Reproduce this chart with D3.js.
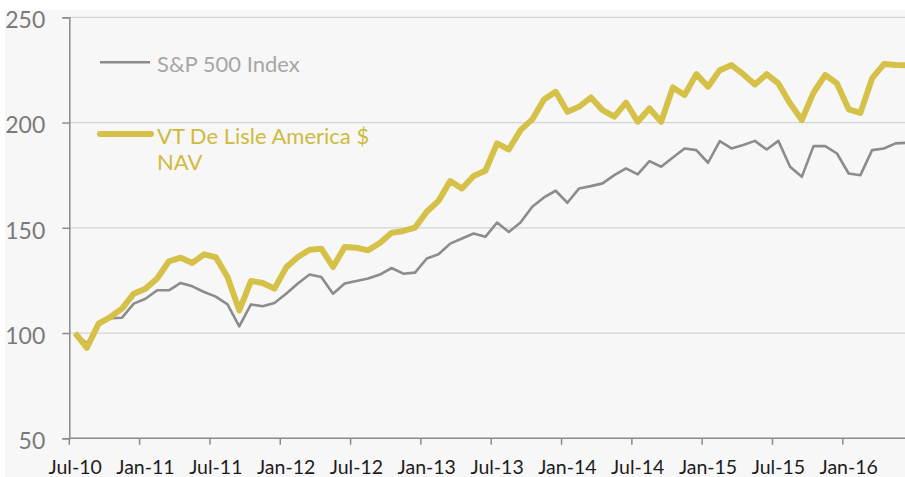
<!DOCTYPE html>
<html>
<head>
<meta charset="utf-8">
<script src="https://cdn.jsdelivr.net/npm/d3@7"></script>
<style>
  html, body { margin: 0; padding: 0; background: #ffffff; }
  svg { display: block; }
</style>
</head>
<body>
<div id="chart"></div>
<script>
// ---- data ----
const startMonth = new Date(2010, 6, 1);  // Jul-10
const months = d3.timeMonth.range(startMonth, new Date(2016, 6, 1)).map(d3.timeFormat("%b-%y"));

const seriesNames = ["S&P 500 Index", "VT De Lisle America $ NAV"];

const sp500 = [
  100, 95, 104, 107, 107.3, 114, 116.3, 120.3, 120.3, 123.8, 122.2, 119.5,
  117.3, 113.6, 103.2, 113.6, 112.7, 114.3, 118.7, 123.5, 127.8, 126.6, 118.7, 123.5,
  124.7, 125.9, 127.8, 130.9, 128.2, 128.7, 135.4, 137.4, 142.5, 144.9, 147.3, 145.7,
  152.5, 148.0, 152.5, 160.0, 164.4, 167.6, 161.9, 168.7, 169.8, 171.1, 175.0, 178.2,
  175.4, 181.7, 179.0, 183.4, 187.7, 186.9, 180.9, 191.2, 187.7, 189.3, 191.3, 187.2,
  191.3, 179.0, 174.2, 188.8, 188.8, 185.3, 175.8, 175.0, 186.9, 187.7, 190.1, 190.4
];

const navSeries = [
  100, 93, 104.5, 107.6, 111.6, 118.7, 121.1, 125.9, 134.1, 135.8, 133.3, 137.4,
  136, 126.6, 110.8, 124.7, 123.8, 121.1, 131.1, 136.1, 139.6, 140.1, 131.4, 140.9,
  140.5, 139.3, 142.8, 147.6, 148.5, 150.1, 157.6, 162.8, 172.2, 168.7, 174.6, 177.1,
  190.1, 187.2, 196.4, 201.5, 211.0, 214.6, 205.1, 207.5, 211.9, 205.9, 202.8, 209.5,
  200.4, 206.7, 200.4, 216.7, 213.1, 223.0, 217.0, 224.9, 227.3, 223.0, 218.1, 223.0,
  218.6, 209.1, 201.2, 214.2, 222.6, 218.6, 206.3, 204.6, 221.0, 227.8, 227.3, 227.2
];

const yTicks = [50, 100, 150, 200, 250];
const xTickLabels = ["Jul-10","Jan-11","Jul-11","Jan-12","Jul-12","Jan-13","Jul-13","Jan-14","Jul-14","Jan-15","Jul-15","Jan-16"];

// ---- layout ----
const W = 905, H = 477;
const axisX = 69.3, monthW = 11.72;
const fontFam = "Lato, 'Open Sans', sans-serif";

const svg = d3.select("#chart").append("svg")
  .attr("width", W).attr("height", H);

// chart background
svg.append("rect").attr("x", 5).attr("y", 10).attr("width", W - 5).attr("height", H - 10)
  .attr("fill", "#f7f7f7");

const x = d3.scaleBand().domain(months)
  .range([axisX, axisX + months.length * monthW]).paddingInner(0).paddingOuter(0);
const y = d3.scaleLinear().domain([50, 250]).range([438.3, 17.3]);
const cx = m => x(m) + x.bandwidth() / 2;

// gridlines
svg.append("g").selectAll("line").data(yTicks.filter(t => t > 50)).join("line")
  .attr("x1", axisX).attr("x2", W)
  .attr("y1", d => y(d)).attr("y2", d => y(d))
  .attr("stroke", "#d4d4d4").attr("stroke-width", 1.3);

// y axis
const yAxis = d3.axisLeft(y).tickValues(yTicks).tickSize(7).tickPadding(17).tickFormat(d3.format("d"));
const gy = svg.append("g").attr("transform", `translate(${axisX},0)`).call(yAxis);
gy.select(".domain").attr("stroke", "#8a8a8a").attr("stroke-width", 1.5);
gy.selectAll(".tick line").attr("stroke", "#8a8a8a").attr("stroke-width", 1.5);
gy.selectAll(".tick text").attr("fill", "#7a7a7a").style("font-family", fontFam)
  .style("font-size", "23px").attr("dy", "0.45em");

// x axis: ticks between categories every 6 months, labels centered on category
const gx = svg.append("g");
gx.append("line").attr("x1", axisX).attr("x2", W).attr("y1", y(50)).attr("y2", y(50))
  .attr("stroke", "#8a8a8a").attr("stroke-width", 1.5);
const tickMonths = months.filter(m => xTickLabels.includes(m));
gx.selectAll("line.tk").data(tickMonths).join("line").attr("class", "tk")
  .attr("x1", d => x(d)).attr("x2", d => x(d))
  .attr("y1", y(50)).attr("y2", y(50) + 6.5)
  .attr("stroke", "#8a8a8a").attr("stroke-width", 1.5);
gx.selectAll("text").data(tickMonths).join("text")
  .attr("x", d => cx(d)).attr("y", 466.5)
  .attr("text-anchor", "middle").attr("dominant-baseline", "central")
  .attr("fill", "#1c1c1c").style("font-family", fontFam).style("font-size", "19.5px")
  .text(d => d);

// lines
const line = d3.line().x((d, i) => cx(months[i])).y(d => y(d)).curve(d3.curveLinear);

svg.append("path").datum(sp500).attr("d", line)
  .attr("fill", "none").attr("stroke", "#8c8c8c").attr("stroke-width", 2.6)
  .attr("stroke-linejoin", "round");
svg.append("path").datum(navSeries).attr("d", line)
  .attr("fill", "none").attr("stroke", "#d6c148").attr("stroke-width", 6)
  .attr("stroke-linejoin", "round");

// legend
const lg = svg.append("g").style("font-family", fontFam).style("font-size", "22px");
lg.append("line").attr("x1", 100).attr("x2", 150).attr("y1", 62.3).attr("y2", 62.3)
  .attr("stroke", "#8c8c8c").attr("stroke-width", 2.6);
lg.append("text").attr("x", 157).attr("y", 72).attr("fill", "#a6a6a6").text(seriesNames[0]);
lg.append("line").attr("x1", 100).attr("x2", 151).attr("y1", 134).attr("y2", 134)
  .attr("stroke", "#d6c148").attr("stroke-width", 6).attr("stroke-linecap", "round");
const t2 = lg.append("text").attr("x", 157).attr("y", 144).attr("fill", "#cfba3c");
t2.append("tspan").attr("x", 157).text("VT De Lisle America $");
t2.append("tspan").attr("x", 157).attr("dy", 26).text("NAV");
</script>
</body>
</html>
